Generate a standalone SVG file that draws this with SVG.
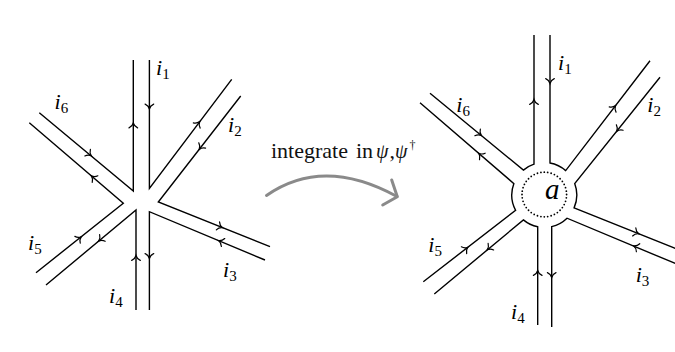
<svg xmlns="http://www.w3.org/2000/svg" xmlns:xlink="http://www.w3.org/1999/xlink" width="675" height="352" viewBox="0 0 675 352">
<style>
.ln{fill:none;stroke:#000;stroke-width:1.4;stroke-linejoin:miter}
.ah{fill:none;stroke:#000;stroke-width:1.2;stroke-linecap:round}
.lb{font-family:"Liberation Serif","DejaVu Serif",serif;font-size:22px;fill:#000}
.it{font-style:italic}
.sb{font-size:15px;font-style:normal}
.cap{font-family:"Liberation Serif","DejaVu Serif",serif;font-size:22px;fill:#111}
.gr{fill:none;stroke:#8a8a8a;stroke-width:3;stroke-linecap:round;stroke-linejoin:round}
</style>
<defs>
<path id="ar" class="ah" d="M-4.4,-4.3 C-3.5,-2.2 -1.6,-0.6 0.5,0 C-1.6,0.6 -3.5,2.2 -4.4,4.3"/>
</defs>
<rect width="675" height="352" fill="#fff"/>

<g id="left-vertex">
<path class="ln" d="M133.3,60 L133.3,191 L39.3,112.7"/>
<path class="ln" d="M149.4,60 L149.4,188.3 L231.7,79.3"/>
<path class="ln" d="M240.7,96 L158.3,202 L270,246.7"/>
<path class="ln" d="M265,260 L149.4,211.7 L149.4,310"/>
<path class="ln" d="M136,310 L136,210 L46,285"/>
<path class="ln" d="M36,272.7 L123.3,203.3 L29.3,122.7"/>
<use xlink:href="#ar" transform="translate(149.4,108.5) rotate(90)"/>
<use xlink:href="#ar" transform="translate(133.3,123.5) rotate(-90)"/>
<use xlink:href="#ar" transform="translate(199.4,122) rotate(-52.9)"/>
<use xlink:href="#ar" transform="translate(199.5,149) rotate(127.9)"/>
<use xlink:href="#ar" transform="translate(222,227.5) rotate(21.8)"/>
<use xlink:href="#ar" transform="translate(219,240.8) rotate(202.7)"/>
<use xlink:href="#ar" transform="translate(136,256) rotate(-90)"/>
<use xlink:href="#ar" transform="translate(149.4,258) rotate(90)"/>
<use xlink:href="#ar" transform="translate(81,237) rotate(-38.5)"/>
<use xlink:href="#ar" transform="translate(99,240.8) rotate(140.2)"/>
<use xlink:href="#ar" transform="translate(91,155.5) rotate(39.8)"/>
<use xlink:href="#ar" transform="translate(91.7,176.2) rotate(220.6)"/>
<text class="lb" x="156" y="75"><tspan class="it">i</tspan><tspan class="sb" dy="4">1</tspan></text>
<text class="lb" x="228" y="131.5"><tspan class="it">i</tspan><tspan class="sb" dy="4">2</tspan></text>
<text class="lb" x="223" y="277"><tspan class="it">i</tspan><tspan class="sb" dy="4">3</tspan></text>
<text class="lb" x="109" y="303"><tspan class="it">i</tspan><tspan class="sb" dy="4">4</tspan></text>
<text class="lb" x="28" y="250"><tspan class="it">i</tspan><tspan class="sb" dy="4">5</tspan></text>
<text class="lb" x="54.5" y="109"><tspan class="it">i</tspan><tspan class="sb" dy="4">6</tspan></text>
</g>

<g id="transition">
<text class="cap" y="158"><tspan x="271">integrate</tspan><tspan x="356">in</tspan><tspan x="376" class="it" style="font-size:20px">ψ</tspan><tspan x="389.5">,</tspan><tspan x="395" class="it" style="font-size:20px">ψ</tspan><tspan x="409.5" y="149" style="font-size:12px">†</tspan></text>
<path class="gr" d="M266.5,195.5 Q323,156 397,196.5"/>
<path class="gr" d="M391.7,180 L397.3,196.7 L382.7,205"/>
</g>

<g id="right-vertex">
<path class="ln" d="M430,93.3 L523.4,170.1 A32.5,32.5 0 0 1 534,164.2 L534,35"/>
<path class="ln" d="M550,35 L550,163 A32.5,32.5 0 0 1 565.7,170.6 L650,60.7"/>
<path class="ln" d="M660,77.3 L574.7,183.6 A32.5,32.5 0 0 1 574.1,207.9 L677,249.1"/>
<path class="ln" d="M677,264.2 L567.05,218.2 A32.5,32.5 0 0 1 551.7,226.6 L551.7,327"/>
<path class="ln" d="M537.7,325 L537.7,226.8 A32.5,32.5 0 0 1 523.4,219.9 L434.3,294"/>
<path class="ln" d="M423.3,281.7 L515.6,210.3 A32.5,32.5 0 0 1 513.9,183.6 L420,102.7"/>
<circle cx="544.3" cy="194.5" r="22.3" fill="none" stroke="#000" stroke-width="1.8" stroke-linecap="round" stroke-dasharray="0 1" pathLength="40"/>
<text class="lb it" x="545" y="198.5" style="font-size:29px">a</text>
<use xlink:href="#ar" transform="translate(550,83) rotate(90)"/>
<use xlink:href="#ar" transform="translate(534,100) rotate(-90)"/>
<use xlink:href="#ar" transform="translate(615.3,106) rotate(-52.5)"/>
<use xlink:href="#ar" transform="translate(617,131) rotate(128.7)"/>
<use xlink:href="#ar" transform="translate(638.3,233.6) rotate(21.8)"/>
<use xlink:href="#ar" transform="translate(634,246) rotate(202.7)"/>
<use xlink:href="#ar" transform="translate(537.7,271) rotate(-90)"/>
<use xlink:href="#ar" transform="translate(551.7,277) rotate(90)"/>
<use xlink:href="#ar" transform="translate(467.5,247.5) rotate(-37.7)"/>
<use xlink:href="#ar" transform="translate(487.5,249.5) rotate(140.3)"/>
<use xlink:href="#ar" transform="translate(481,135.2) rotate(39.4)"/>
<use xlink:href="#ar" transform="translate(479,153.6) rotate(220.8)"/>
<text class="lb" x="558" y="70"><tspan class="it">i</tspan><tspan class="sb" dy="4">1</tspan></text>
<text class="lb" x="647.3" y="111.7"><tspan class="it">i</tspan><tspan class="sb" dy="4">2</tspan></text>
<text class="lb" x="635.7" y="281.7"><tspan class="it">i</tspan><tspan class="sb" dy="4">3</tspan></text>
<text class="lb" x="511" y="319.3"><tspan class="it">i</tspan><tspan class="sb" dy="4">4</tspan></text>
<text class="lb" x="428.3" y="251.7"><tspan class="it">i</tspan><tspan class="sb" dy="4">5</tspan></text>
<text class="lb" x="456.3" y="111.7"><tspan class="it">i</tspan><tspan class="sb" dy="4">6</tspan></text>
</g>
</svg>
